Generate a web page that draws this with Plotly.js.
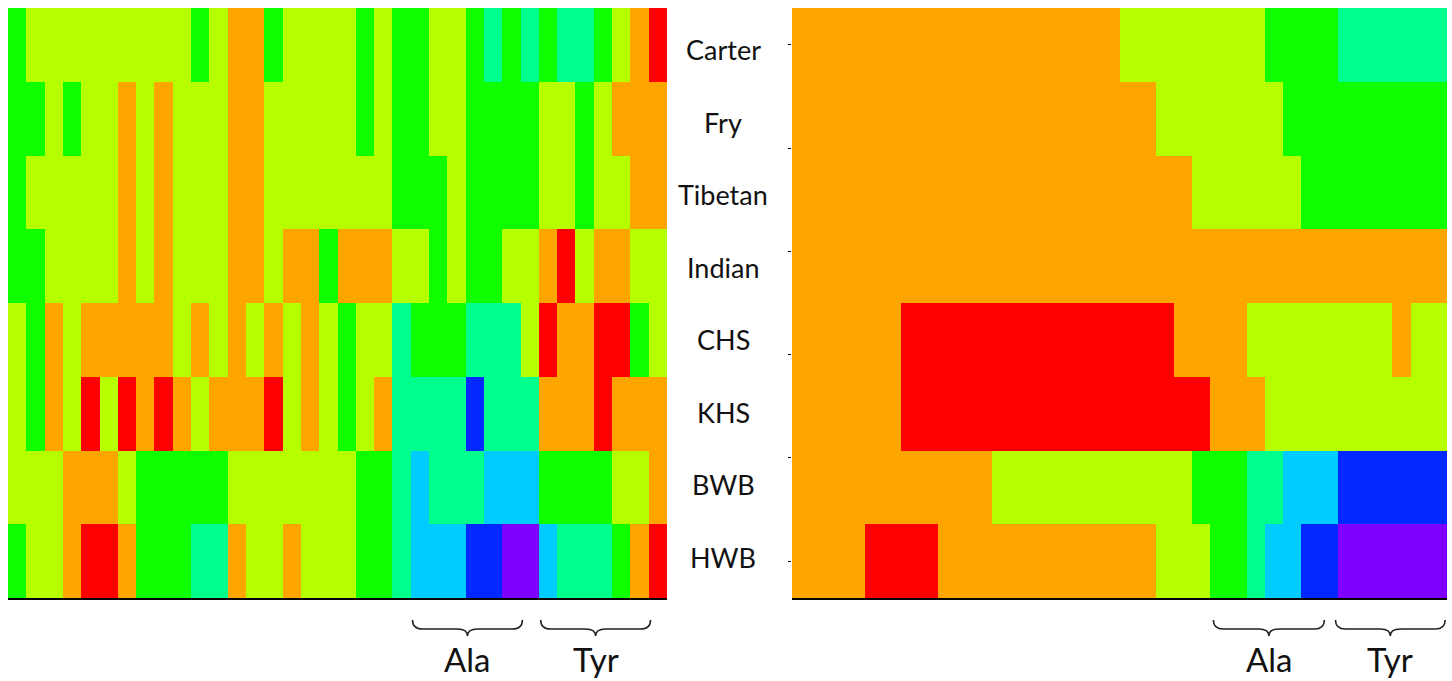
<!DOCTYPE html>
<html>
<head>
<meta charset="utf-8">
<script src="https://cdn.plot.ly/plotly-3.0.1.min.js"></script>
<style>
  html, body { margin: 0; padding: 0; background: #fff; }
  #chart { width: 1452px; height: 681px; }
</style>
</head>
<body>
<div id="chart"></div>
<script>
// Row (population) names, top to bottom
const rowNames = ['Carter', 'Fry', 'Tibetan', 'Indian', 'CHS', 'KHS', 'BWB', 'HWB'];

// Class codes 1..8 and their colours
const classColors = ['#FF0000', '#FFA500', '#B5FF00', '#10FF00', '#00FF8C', '#00CCFF', '#0028FF', '#8000FF'];

// Left panel: class per column (36 columns) for each row
const leftCarter  = [4,3,3,3,3,3,3,3,3,3,4,3,2,2,4,3,3,3,3,4,3,4,4,3,3,4,5,4,5,4,5,5,4,3,2,1];
const leftFry     = [4,4,3,4,3,3,2,3,2,3,3,3,2,2,3,3,3,3,3,4,3,4,4,3,3,4,4,4,4,3,3,4,3,2,2,2];
const leftTibetan = [4,3,3,3,3,3,2,3,2,3,3,3,2,2,3,3,3,3,3,3,3,4,4,4,3,4,4,4,4,3,3,4,3,3,2,2];
const leftIndian  = [4,4,3,3,3,3,2,3,2,3,3,3,2,2,3,2,2,4,2,2,2,3,3,4,3,4,4,3,3,2,1,3,2,2,3,3];
const leftCHS     = [3,4,2,3,2,2,2,2,2,3,2,3,2,3,2,3,2,3,4,3,3,5,4,4,4,5,5,5,3,1,2,2,1,1,4,3];
const leftKHS     = [3,4,2,3,1,3,1,2,1,2,3,2,2,2,1,3,2,3,4,3,2,5,5,5,5,7,5,5,5,2,2,2,1,2,2,2];
const leftBWB     = [3,3,3,2,2,2,3,4,4,4,4,4,3,3,3,3,3,3,3,4,4,5,6,5,5,5,6,6,6,4,4,4,4,3,3,2];
const leftHWB     = [4,3,3,2,1,1,2,4,4,4,5,5,2,3,3,2,3,3,3,4,4,5,6,6,6,7,7,8,8,6,5,5,5,4,2,1];

// Right panel: class per column (36 columns) for each row
const rightCarter  = [2,2,2,2,2,2,2,2,2,2,2,2,2,2,2,2,2,2,3,3,3,3,3,3,3,3,4,4,4,4,5,5,5,5,5,5];
const rightFry     = [2,2,2,2,2,2,2,2,2,2,2,2,2,2,2,2,2,2,2,2,3,3,3,3,3,3,3,4,4,4,4,4,4,4,4,4];
const rightTibetan = [2,2,2,2,2,2,2,2,2,2,2,2,2,2,2,2,2,2,2,2,2,2,3,3,3,3,3,3,4,4,4,4,4,4,4,4];
const rightIndian  = [2,2,2,2,2,2,2,2,2,2,2,2,2,2,2,2,2,2,2,2,2,2,2,2,2,2,2,2,2,2,2,2,2,2,2,2];
const rightCHS     = [2,2,2,2,2,2,1,1,1,1,1,1,1,1,1,1,1,1,1,1,1,2,2,2,2,3,3,3,3,3,3,3,3,2,3,3];
const rightKHS     = [2,2,2,2,2,2,1,1,1,1,1,1,1,1,1,1,1,1,1,1,1,1,1,2,2,2,3,3,3,3,3,3,3,3,3,3];
const rightBWB     = [2,2,2,2,2,2,2,2,2,2,2,3,3,3,3,3,3,3,3,3,3,3,4,4,4,5,5,6,6,6,7,7,7,7,7,7];
const rightHWB     = [2,2,2,2,1,1,1,1,2,2,2,2,2,2,2,2,2,2,2,2,3,3,3,4,4,5,6,6,7,7,8,8,8,8,8,8];

// Residue groups marked under each panel: [first column edge, last column edge]
const groupNames = ['Ala', 'Tyr'];
const leftGroupSpans  = [[21.6, 27.6], [28.6, 34.6]];
const rightGroupSpans = [[22.66, 28.76], [29.37, 35.4]];

const leftZ  = [leftCarter, leftFry, leftTibetan, leftIndian, leftCHS, leftKHS, leftBWB, leftHWB];
const rightZ = [rightCarter, rightFry, rightTibetan, rightIndian, rightCHS, rightKHS, rightBWB, rightHWB];
const colIdx = leftCarter.map((_, i) => i);
const rowIdx = rowNames.map((_, i) => i);

// stepped colour scale: one flat band per class code
const scale = [];
classColors.forEach((c, i) => {
  scale.push([i / classColors.length, c]);
  scale.push([(i + 1) / classColors.length, c]);
});

const W = 1452, H = 681;
const px = v => v / W;
const py = v => 1 - v / H;

function panel(z, xa, ya) {
  return {
    type: 'heatmap', z: z, x: colIdx, y: rowIdx,
    zmin: 0.5, zmax: 8.5, colorscale: scale, showscale: false,
    xgap: 0, ygap: 0, hoverinfo: 'skip',
    xaxis: xa, yaxis: ya
  };
}

const data = [panel(leftZ, 'x', 'y'), panel(rightZ, 'x2', 'y2')];

const xBase = {
  range: [-0.5, 35.5], showgrid: false, zeroline: false, showticklabels: false,
  ticks: '', showline: true, linecolor: '#000', linewidth: 2, fixedrange: true
};
const yDomain = [py(598), py(8)];

// curly brace path under a column span, x in axis units, y in paper units
function bracePath(x0, x1) {
  const yTop = py(620), yMid = py(629), yTip = py(636);
  const d = 0.55, xc = (x0 + x1) / 2;
  return `M${x0},${yTop} Q${x0},${yMid} ${x0 + d},${yMid} L${xc - d},${yMid} ` +
         `Q${xc},${yMid} ${xc},${yTip} Q${xc},${yMid} ${xc + d},${yMid} ` +
         `L${x1 - d},${yMid} Q${x1},${yMid} ${x1},${yTop}`;
}

const shapes = [];
const annotations = [];
[[leftGroupSpans, 'x'], [rightGroupSpans, 'x2']].forEach(([spans, xr]) => {
  spans.forEach((s, i) => {
    shapes.push({
      type: 'path', xref: xr, yref: 'paper', path: bracePath(s[0], s[1]),
      line: { color: '#222', width: 1.6 }
    });
    annotations.push({
      xref: xr, yref: 'paper', x: (s[0] + s[1]) / 2, y: py(659),
      text: groupNames[i], showarrow: false, xanchor: 'center', yanchor: 'middle',
      font: { family: 'Lato, "Open Sans", sans-serif', size: 33, color: '#111' }
    });
  });
});

// row labels sit on a slightly tighter pitch than the rows themselves
rowNames.forEach((name, i) => {
  annotations.push({
    xref: 'paper', yref: 'y', x: px(723), y: i, yshift: -(5 - 1.25 * i),
    text: name, showarrow: false, xanchor: 'center', yanchor: 'middle',
    font: { family: 'Lato, "Open Sans", sans-serif', size: 27, color: '#111' }
  });
});

const layout = {
  width: W, height: H,
  margin: { l: 0, r: 0, t: 0, b: 0, pad: 0 },
  paper_bgcolor: '#fff', plot_bgcolor: '#fff',
  showlegend: false,
  xaxis: Object.assign({}, xBase, { domain: [px(8), px(667)], anchor: 'y' }),
  yaxis: {
    domain: yDomain, range: [7.5, -0.5], anchor: 'x', showgrid: false, zeroline: false,
    showticklabels: false, ticks: '', showline: false, fixedrange: true
  },
  xaxis2: Object.assign({}, xBase, { domain: [px(792), px(1447)], anchor: 'y2' }),
  yaxis2: {
    domain: yDomain, range: [7.5, -0.5], anchor: 'x2', showgrid: false, zeroline: false,
    showticklabels: false, ticks: 'outside', ticklen: 3, tickwidth: 1, tickcolor: '#000',
    tickmode: 'array', tickvals: [0, 1.4, 2.8, 4.2, 5.6, 7], showline: false, fixedrange: true
  },
  shapes: shapes,
  annotations: annotations
};

Plotly.newPlot('chart', data, layout, { displayModeBar: false, staticPlot: true });
</script>
</body>
</html>
